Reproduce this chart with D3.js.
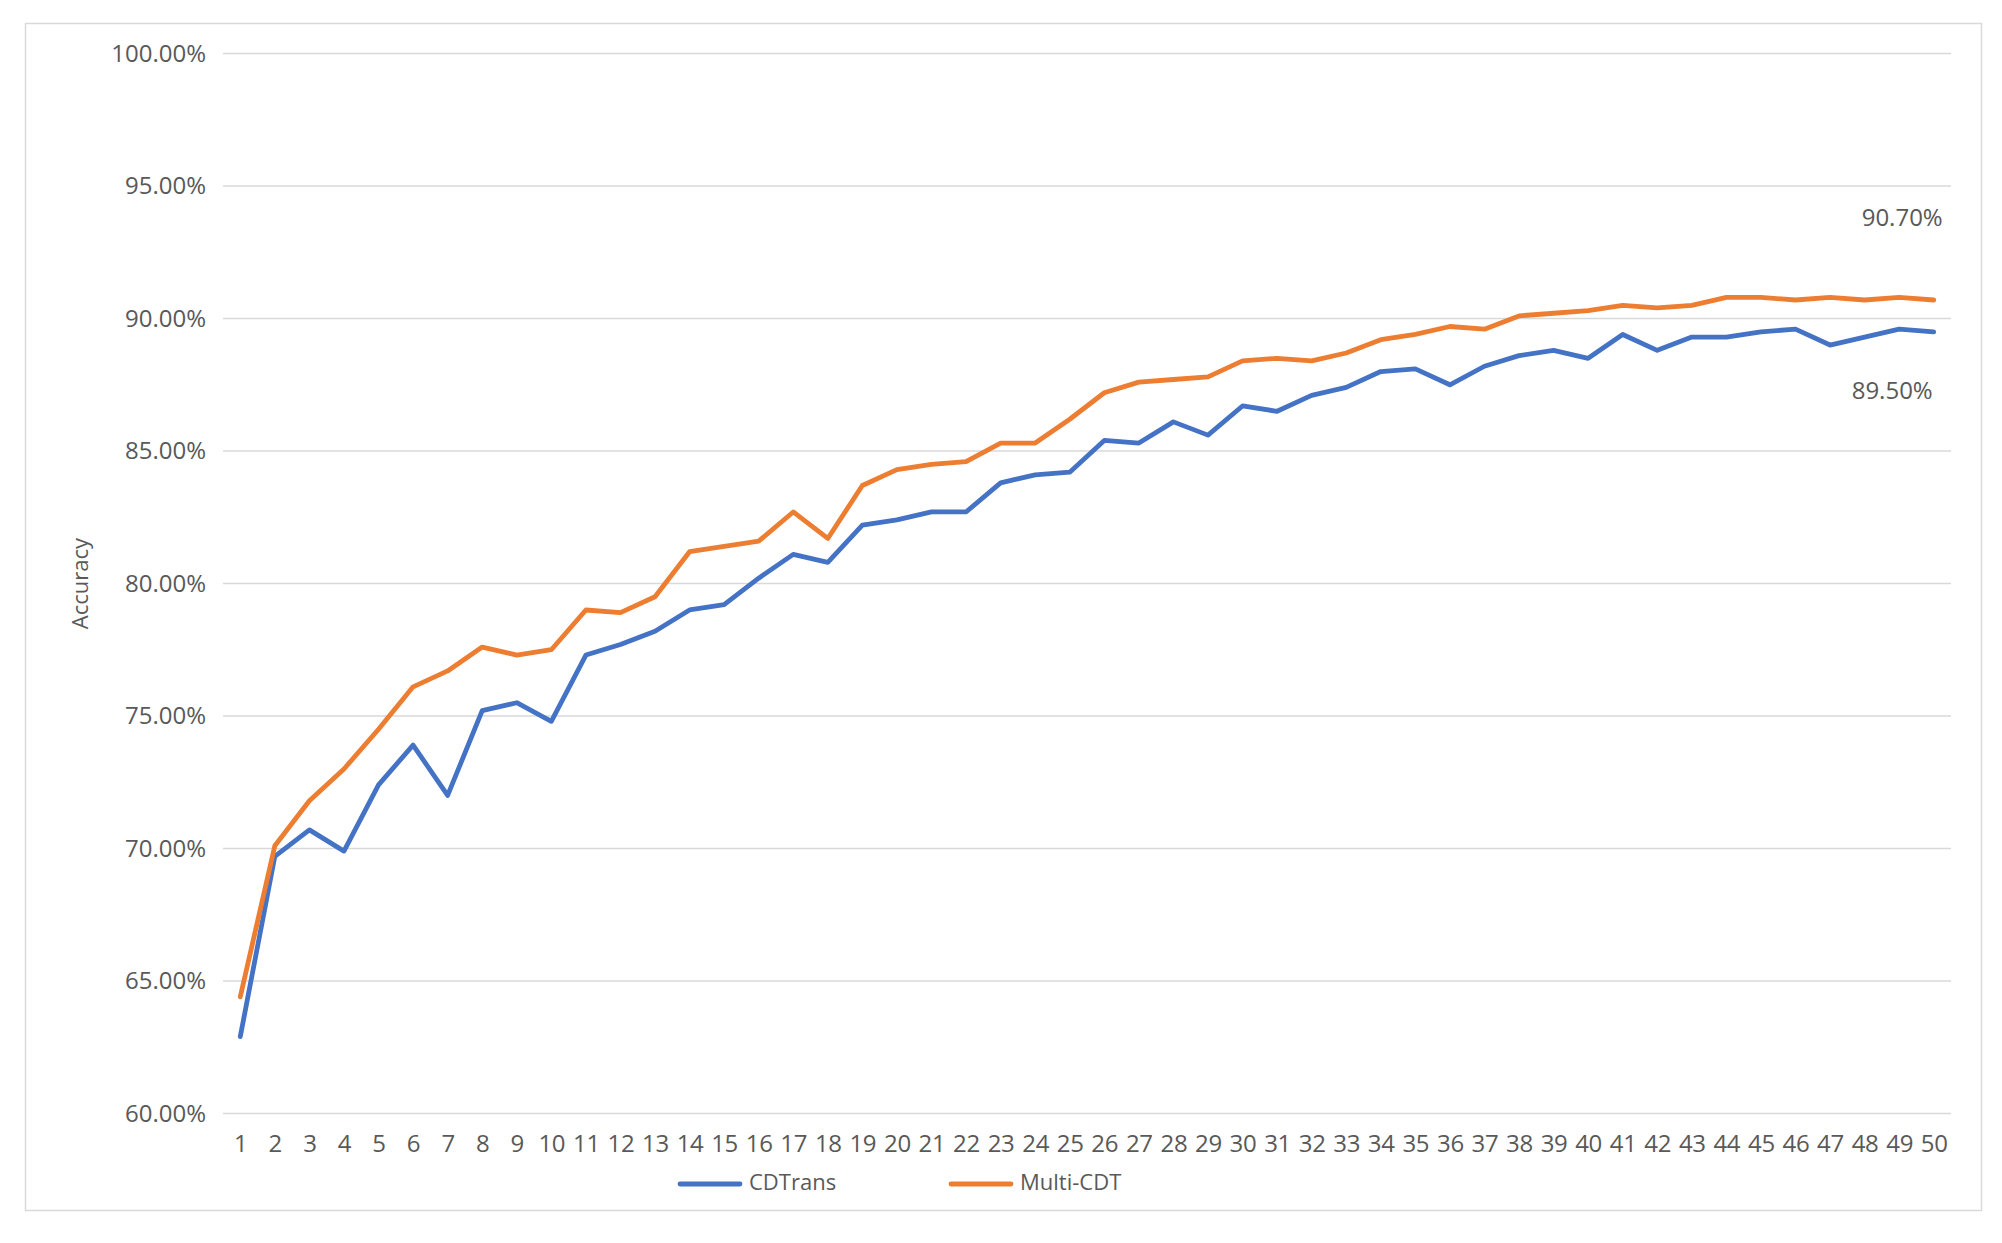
<!DOCTYPE html>
<html>
<head>
<meta charset="utf-8">
<script src="https://cdn.jsdelivr.net/npm/d3@7"></script>
<style>
  html, body { margin: 0; padding: 0; background: #fff; }
  svg { display: block; }
  text { font-family: "Open Sans", "Noto Sans", sans-serif; fill: #595959; }
</style>
</head>
<body>
<svg id="chart" width="2002" height="1243"></svg>
<script>
const epochs = d3.range(1, 51).map(String);
const seriesNames = ["CDTrans", "Multi-CDT"];
const seriesColors = ["#4472C4", "#ED7D31"];
const cdtrans = [62.9, 69.7, 70.7, 69.9, 72.4, 73.9, 72.0, 75.2, 75.5, 74.8,
                 77.3, 77.7, 78.2, 79.0, 79.2, 80.2, 81.1, 80.8, 82.2, 82.4,
                 82.7, 82.7, 83.8, 84.1, 84.2, 85.4, 85.3, 86.1, 85.6, 86.7,
                 86.5, 87.1, 87.4, 88.0, 88.1, 87.5, 88.2, 88.6, 88.8, 88.5,
                 89.4, 88.8, 89.3, 89.3, 89.5, 89.6, 89.0, 89.3, 89.6, 89.5];
const multiCdt = [64.4, 70.1, 71.8, 73.0, 74.5, 76.1, 76.7, 77.6, 77.3, 77.5,
                  79.0, 78.9, 79.5, 81.2, 81.4, 81.6, 82.7, 81.7, 83.7, 84.3,
                  84.5, 84.6, 85.3, 85.3, 86.2, 87.2, 87.6, 87.7, 87.8, 88.4,
                  88.5, 88.4, 88.7, 89.2, 89.4, 89.7, 89.6, 90.1, 90.2, 90.3,
                  90.5, 90.4, 90.5, 90.8, 90.8, 90.7, 90.8, 90.7, 90.8, 90.7];
const yTicks = [60, 65, 70, 75, 80, 85, 90, 95, 100];
const endLabels = ["89.50%", "90.70%"];
const yTitle = "Accuracy";

const svg = d3.select("#chart");
const plotLeft = 223, plotRight = 1951, plotTop = 53.6, plotBottom = 1113.4;

// outer frame
svg.append("rect")
  .attr("x", 25.5).attr("y", 23.5).attr("width", 1956).attr("height", 1187)
  .attr("fill", "#fff").attr("stroke", "#d9d9d9").attr("stroke-width", 1.5);

const x = d3.scalePoint().domain(epochs).range([plotLeft, plotRight]).padding(0.5);
const y = d3.scaleLinear().domain([60, 100]).range([plotBottom, plotTop]);

// gridlines
svg.append("g")
  .selectAll("line").data(yTicks).join("line")
  .attr("x1", plotLeft).attr("x2", plotRight)
  .attr("y1", d => y(d)).attr("y2", d => y(d))
  .attr("stroke", "#d9d9d9").attr("stroke-width", 1.5);

// y axis labels
const yAxis = d3.axisLeft(y).tickValues(yTicks).tickSize(0).tickPadding(0)
  .tickFormat(d => d.toFixed(2) + "%");
const gy = svg.append("g").attr("transform", `translate(${plotLeft - 17},0)`).call(yAxis);
gy.select(".domain").remove();
gy.selectAll("text").style("font-size", "24px").attr("fill", "#595959")
  .attr("font-family", "Open Sans");

// x axis labels
const xAxis = d3.axisBottom(x).tickSize(0).tickPadding(0);
const gx = svg.append("g").attr("transform", `translate(0,${plotBottom + 22})`).call(xAxis);
gx.select(".domain").remove();
gx.selectAll("text").style("font-size", "24px").attr("fill", "#595959")
  .attr("font-family", "Open Sans").attr("letter-spacing", "-0.3px");

// y title
svg.append("text")
  .attr("transform", `translate(88,${(plotTop + plotBottom) / 2}) rotate(-90)`)
  .attr("text-anchor", "middle").style("font-size", "22px")
  .text(yTitle);

// lines
const line = d3.line().x((d, i) => x(epochs[i])).y(d => y(d));
[cdtrans, multiCdt].forEach((s, k) => {
  svg.append("path").datum(s)
    .attr("fill", "none").attr("stroke", seriesColors[k])
    .attr("stroke-width", 4.8).attr("stroke-linejoin", "round").attr("stroke-linecap", "round")
    .attr("d", line);
});

// end labels
const last = epochs[epochs.length - 1];
svg.append("text")
  .attr("x", x(last) - 1).attr("y", y(cdtrans[49]) + 61)
  .attr("text-anchor", "end").attr("dominant-baseline", "middle")
  .style("font-size", "24px").text(endLabels[0]);
svg.append("text")
  .attr("x", x(last) + 9).attr("y", y(multiCdt[49]) - 80)
  .attr("text-anchor", "end").attr("dominant-baseline", "middle")
  .style("font-size", "24px").text(endLabels[1]);

// legend
const legendX = [680, 951];
seriesNames.forEach((n, k) => {
  const g = svg.append("g").attr("transform", `translate(${legendX[k]},1184)`);
  g.append("line").attr("x1", 0).attr("x2", 60).attr("y1", 0).attr("y2", 0)
    .attr("stroke", seriesColors[k]).attr("stroke-width", 4.8).attr("stroke-linecap", "round");
  g.append("text").attr("x", 69).attr("y", 0).attr("dominant-baseline", "middle")
    .style("font-size", "22px").text(n);
});
</script>
</body>
</html>
